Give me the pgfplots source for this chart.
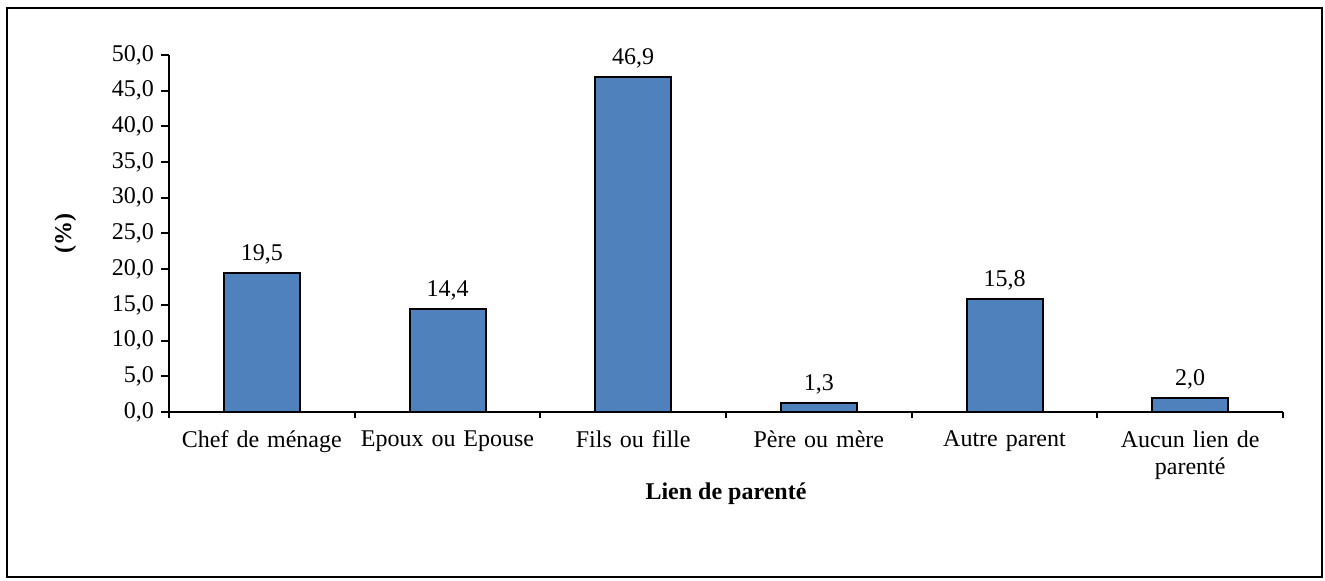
\documentclass[border=0pt]{standalone}
\usepackage{pgfplots}
\pgfplotsset{compat=1.18}
\usepackage{fontspec}
\setmainfont{Liberation Serif}
\definecolor{barblue}{HTML}{4F81BD}
\begin{document}
\begin{tikzpicture}[font=\fontsize{12}{13.5}\selectfont]
\path[use as bounding box] (0,0) rectangle (662.5pt,290.5pt);
\draw[line width=1pt] (3.5pt,2pt) rectangle (661pt,286.5pt);
\begin{axis}[
  at={(84.5pt,84.5pt)}, anchor=south west,
  scale only axis, width=557pt, height=178.5pt,
  xmin=-0.5, xmax=5.5, ymin=0, ymax=50,
  axis x line*=bottom, axis y line*=left,
  axis line style={line width=1pt, -},
  ytick={0,5,...,50},
  xtick={0,...,5},
  xticklabels={Chef de ménage, Epoux ou Epouse, Fils ou fille, Père ou mère, Autre parent, {Aucun lien de\\parenté}},
  xticklabel style={align=center, text width=90pt, yshift=-2pt},
  every major x tick/.append style={draw=none},
  minor xtick={-0.5,0.5,...,5.5},
  minor tick length=3pt, major tick length=4pt,
  tick align=outside,
  tick style={line width=1pt, black},
  every minor x tick/.append style={line width=1pt, black},
  /pgf/number format/.cd, use comma, fixed, fixed zerofill, precision=1, assume math mode=true,
  /pgfplots/.cd,
  ylabel={\textbf{(\%)}},
  every axis y label/.style={at={(axis description cs:-0.093,0.5)}, anchor=center, rotate=90},
  xlabel={\textbf{Lien de parenté}},
  every axis x label/.style={at={(axis description cs:0.5,-0.23)}, anchor=center},
  ybar, bar width=38pt,
  nodes near coords,
  every node near coord/.append style={yshift=0.5pt, /pgf/number format/.cd, use comma, fixed, fixed zerofill, precision=1, assume math mode=true},
]
\addplot[fill=barblue, draw=black, line width=1pt] coordinates {(0,19.5) (1,14.4) (2,46.9) (3,1.3) (4,15.8) (5,2.0)};
\end{axis}
\end{tikzpicture}
\end{document}
